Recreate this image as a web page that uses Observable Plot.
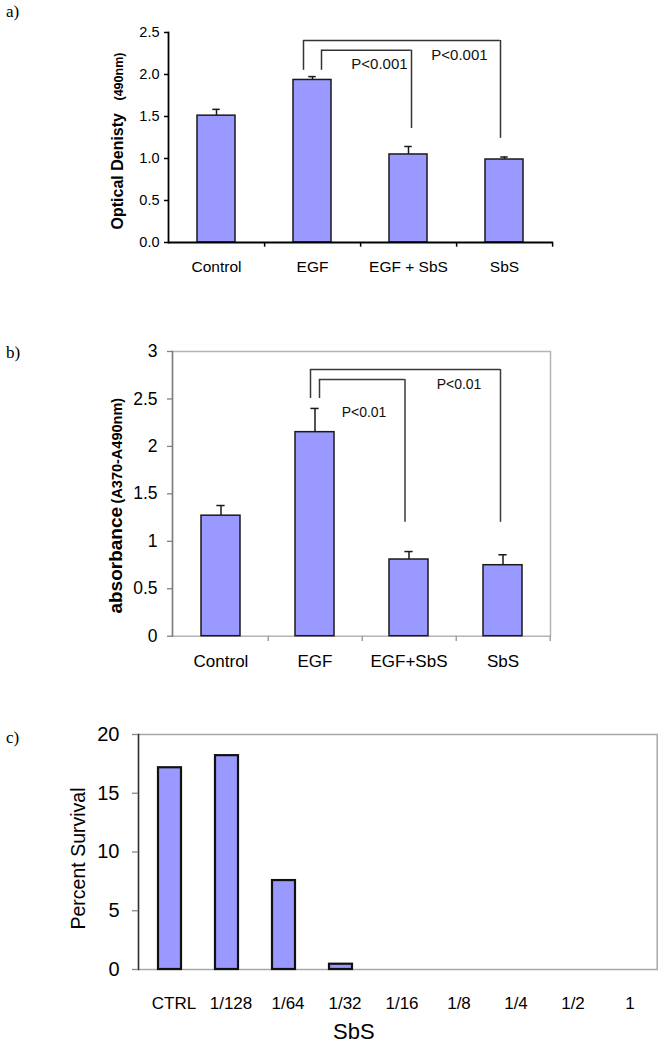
<!DOCTYPE html>
<html>
<head>
<meta charset="utf-8">
<script src="https://cdn.jsdelivr.net/npm/d3@7"></script>
<script src="https://cdn.jsdelivr.net/npm/@observablehq/plot@0.6"></script>
<style>
  html, body { margin: 0; padding: 0; background: #fff; }
  #root { position: relative; width: 659px; height: 1050px; background: #fff; overflow: hidden; }
  .panel { position: absolute; left: 0; z-index: 1; }
  .plabel { position: absolute; left: 6px; z-index: 2; font-family: "Liberation Serif", "Times New Roman", serif; font-size: 17px; line-height: 17px; color: #000; }
</style>
</head>
<body>
<div id="root">
  <div class="panel" id="pa" style="top:0px"></div>
  <div class="panel" id="pb" style="top:290px"></div>
  <div class="panel" id="pc" style="top:670px"></div>
  <div class="plabel" style="top:3px">a)</div>
  <div class="plabel" style="top:344px">b)</div>
  <div class="plabel" style="top:729px">c)</div>
</div>
<script>
// ---------------- data ----------------
// Panel a
const catsA = ["Control", "EGF", "EGF + SbS", "SbS"];
const valsA = [1.51, 1.935, 1.048, 0.988];
const errsA = [0.075, 0.04, 0.095, 0.03];
const ticksA = [0, 0.5, 1.0, 1.5, 2.0, 2.5];
const pLabelsA = ["P<0.001", "P<0.001"];

// Panel b
const catsB = ["Control", "EGF", "EGF+SbS", "SbS"];
const valsB = [1.27, 2.15, 0.808, 0.748];
const errsB = [0.107, 0.25, 0.084, 0.11];
const ticksB = [0, 0.5, 1, 1.5, 2, 2.5, 3];
const pLabelsB = ["P<0.01", "P<0.01"];

// Panel c
const catsC = ["CTRL", "1/128", "1/64", "1/32", "1/16", "1/8", "1/4", "1/2", "1"];
const valsC = [17.17, 18.2, 7.57, 0.45, 0, 0, 0, 0, 0];
const ticksC = [0, 5, 10, 15, 20];

// ---------------- helpers ----------------
const FONT = "'Liberation Sans', Arial, Helvetica, sans-serif";
const BAR_FILL = "#9999ff";

function table(cats, vals, errs) {
  return cats.map((c, i) => ({cat: c, value: vals[i], err: errs ? errs[i] : 0}));
}

function bracketMarks(b, bw, style) {
  return [
    Plot.ruleX([b], {x: d => d.from, y1: d => d.leftBottom, y2: d => d.top, dx: b.dxL, ...style}),
    Plot.ruleX([b], {x: d => d.to, y1: d => d.rightBottom, y2: d => d.top, dx: b.dxR, ...style}),
    Plot.ruleY([b], {x1: d => d.from, x2: d => d.to, y: d => d.top,
      insetLeft: bw / 2 + b.dxL, insetRight: bw / 2 - b.dxR, ...style})
  ];
}

// ---------------- panel a ----------------
{
  const W = 659, H = 290, mL = 168, mR = 106, mT = 32, mB = 48;
  const step = (W - mL - mR) / catsA.length;
  const pin = 0.6, bw = step * (1 - pin);
  const data = table(catsA, valsA, errsA);
  const brackets = [
    {from: "EGF", to: "SbS", top: 2.405, leftBottom: 2.05, rightBottom: 1.24, dxL: -9, dxR: -4},
    {from: "EGF", to: "EGF + SbS", top: 2.29, leftBottom: 2.05, rightBottom: 1.357, dxL: 9, dxR: 3}
  ];
  const bStyle = {stroke: "#333", strokeWidth: 1.5};
  const chart = Plot.plot({
    width: W, height: H, marginLeft: mL, marginRight: mR, marginTop: mT, marginBottom: mB,
    style: {fontFamily: FONT, color: "#000", background: "#fff", overflow: "visible"},
    x: {domain: catsA, paddingInner: pin, paddingOuter: pin / 2},
    y: {domain: [0, 2.5]},
    marks: [
      Plot.barY(data, {x: "cat", y: "value", fill: BAR_FILL, stroke: "#1a1a1a", strokeWidth: 1.5}),
      Plot.ruleX(data, {x: "cat", y1: "value", y2: d => d.value + d.err, stroke: "#1a1a1a", strokeWidth: 1.5}),
      Plot.tickY(data, {x: "cat", y: d => d.value + d.err, stroke: "#1a1a1a", strokeWidth: 1.5,
        insetLeft: (bw - 8) / 2, insetRight: (bw - 8) / 2}),
      ...brackets.flatMap(b => bracketMarks(b, bw, bStyle)),
      Plot.text([pLabelsA[0]], {x: () => "EGF + SbS", y: () => 2.12, dx: -29, fontSize: 15, fill: "#111"}),
      Plot.text([pLabelsA[1]], {x: () => "SbS", y: () => 2.23, dx: -45, fontSize: 15, fill: "#111"}),
      Plot.frame({anchor: "left", stroke: "#000", strokeWidth: 1.8}),
      Plot.ruleY([0], {stroke: "#000", strokeWidth: 1.8}),
      Plot.ruleX(catsA, {x: d => d, y1: 0, y2: -0.056, dx: step / 2, stroke: "#000", strokeWidth: 1.5}),
      Plot.axisY({ticks: ticksA, tickFormat: d3.format(".1f"), tickSize: 4, tickPadding: 5,
        fontSize: 14.5, label: null, stroke: "#000", strokeWidth: 1.5}),
      Plot.axisX({tickSize: 0, tickPadding: 18, fontSize: 15.5, label: null}),
      Plot.text(["Optical Denisty"], {frameAnchor: "left", rotate: -90, textAnchor: "start",
        dx: -51, dy: 92, fontSize: 16, fontWeight: "bold", fill: "#000"}),
      Plot.text(["(490nm)"], {frameAnchor: "left", rotate: -90, textAnchor: "start",
        dx: -49.5, dy: -37, fontSize: 12.5, fontWeight: "bold", fill: "#000"})
    ]
  });
  document.getElementById("pa").appendChild(chart);
}

// ---------------- panel b ----------------
{
  const W = 659, H = 380, mL = 172, mR = 109, mT = 61, mB = 34.3;
  const step = (W - mL - mR) / catsB.length;
  const pin = 0.59, bw = step * (1 - pin);
  const data = table(catsB, valsB, errsB);
  const brackets = [
    {from: "EGF", to: "SbS", top: 2.81, leftBottom: 2.505, rightBottom: 1.2, dxL: -4.5, dxR: -2.5},
    {from: "EGF", to: "EGF+SbS", top: 2.705, leftBottom: 2.505, rightBottom: 1.2, dxL: 4.5, dxR: -4}
  ];
  const bStyle = {stroke: "#3a3a3a", strokeWidth: 1.5};
  const chart = Plot.plot({
    width: W, height: H, marginLeft: mL, marginRight: mR, marginTop: mT, marginBottom: mB,
    style: {fontFamily: FONT, color: "#000", background: "#fff", overflow: "visible"},
    x: {domain: catsB, paddingInner: pin, paddingOuter: pin / 2},
    y: {domain: [0, 3]},
    marks: [
      Plot.frame({stroke: "#b4b4b4", strokeWidth: 1.5}),
      Plot.frame({anchor: "left", stroke: "#808080", strokeWidth: 1.5}),
      Plot.ruleX(catsB, {x: d => d, y1: 0, y2: -0.055, dx: step / 2, stroke: "#a0a0a0", strokeWidth: 1.5}),
      Plot.barY(data, {x: "cat", y: "value", fill: BAR_FILL, stroke: "#1a1a1a", strokeWidth: 1.5}),
      Plot.ruleX(data, {x: "cat", y1: "value", y2: d => d.value + d.err, stroke: "#1a1a1a", strokeWidth: 1.5}),
      Plot.tickY(data, {x: "cat", y: d => d.value + d.err, stroke: "#1a1a1a", strokeWidth: 1.5,
        insetLeft: (bw - 8) / 2, insetRight: (bw - 8) / 2}),
      ...brackets.flatMap(b => bracketMarks(b, bw, bStyle)),
      Plot.text([pLabelsB[0]], {x: () => "EGF+SbS", y: () => 2.357, dx: -45, fontSize: 14, fill: "#111"}),
      Plot.text([pLabelsB[1]], {x: () => "SbS", y: () => 2.65, dx: -44, fontSize: 14, fill: "#111"}),
      Plot.axisY({ticks: ticksB, tickFormat: d => String(d), tickSize: 5, tickPadding: 10, fontSize: 17.5, label: null,
        stroke: "#808080", strokeWidth: 1.3}),
      Plot.axisX({tickSize: 0, tickPadding: 19, fontSize: 17, label: null}),
      Plot.text(["absorbance"], {frameAnchor: "left", rotate: -90, textAnchor: "start",
        dx: -57, dy: 119.7, fontSize: 19, fontWeight: "bold", fill: "#000"}),
      Plot.text(["(A370-A490nm)"], {frameAnchor: "left", rotate: -90, textAnchor: "start",
        dx: -55.5, dy: 9.6, fontSize: 14.5, fontWeight: "bold", fill: "#000"})
    ]
  });
  document.getElementById("pb").appendChild(chart);
}

// ---------------- panel c ----------------
{
  const W = 659, H = 380, mL = 138, mR = 2.3, mT = 64, mB = 81;
  const pin = 0.6;
  const data = table(catsC, valsC).filter(d => d.value > 0);
  const chart = Plot.plot({
    width: W, height: H, marginLeft: mL, marginRight: mR, marginTop: mT, marginBottom: mB,
    style: {fontFamily: FONT, color: "#000", background: "#fff", overflow: "visible"},
    x: {domain: catsC, paddingInner: pin, paddingOuter: pin / 2},
    y: {domain: [0, 20]},
    marks: [
      Plot.frame({stroke: "#a8a8a8", strokeWidth: 1.5}),
      Plot.frame({anchor: "left", stroke: "#333", strokeWidth: 1.5}),
      Plot.barY(data, {x: "cat", y: "value", fill: BAR_FILL, stroke: "#111", strokeWidth: 2.2}),
      Plot.axisY({ticks: ticksC, tickSize: 6, tickPadding: 13, fontSize: 20, label: null,
        stroke: "#888", strokeWidth: 1.3}),
      Plot.axisX({tickSize: 0, tickPadding: 27, dx: 4, fontSize: 17, label: null}),
      Plot.text(["Percent Survival"], {frameAnchor: "left", rotate: -90, textAnchor: "middle",
        dx: -59.5, dy: 6.5, fontSize: 19.5, fill: "#000"}),
      Plot.text(["SbS"], {frameAnchor: "bottom", dx: -44, dy: 69, fontSize: 22, fill: "#000"})
    ]
  });
  document.getElementById("pc").appendChild(chart);
}
</script>
</body>
</html>
